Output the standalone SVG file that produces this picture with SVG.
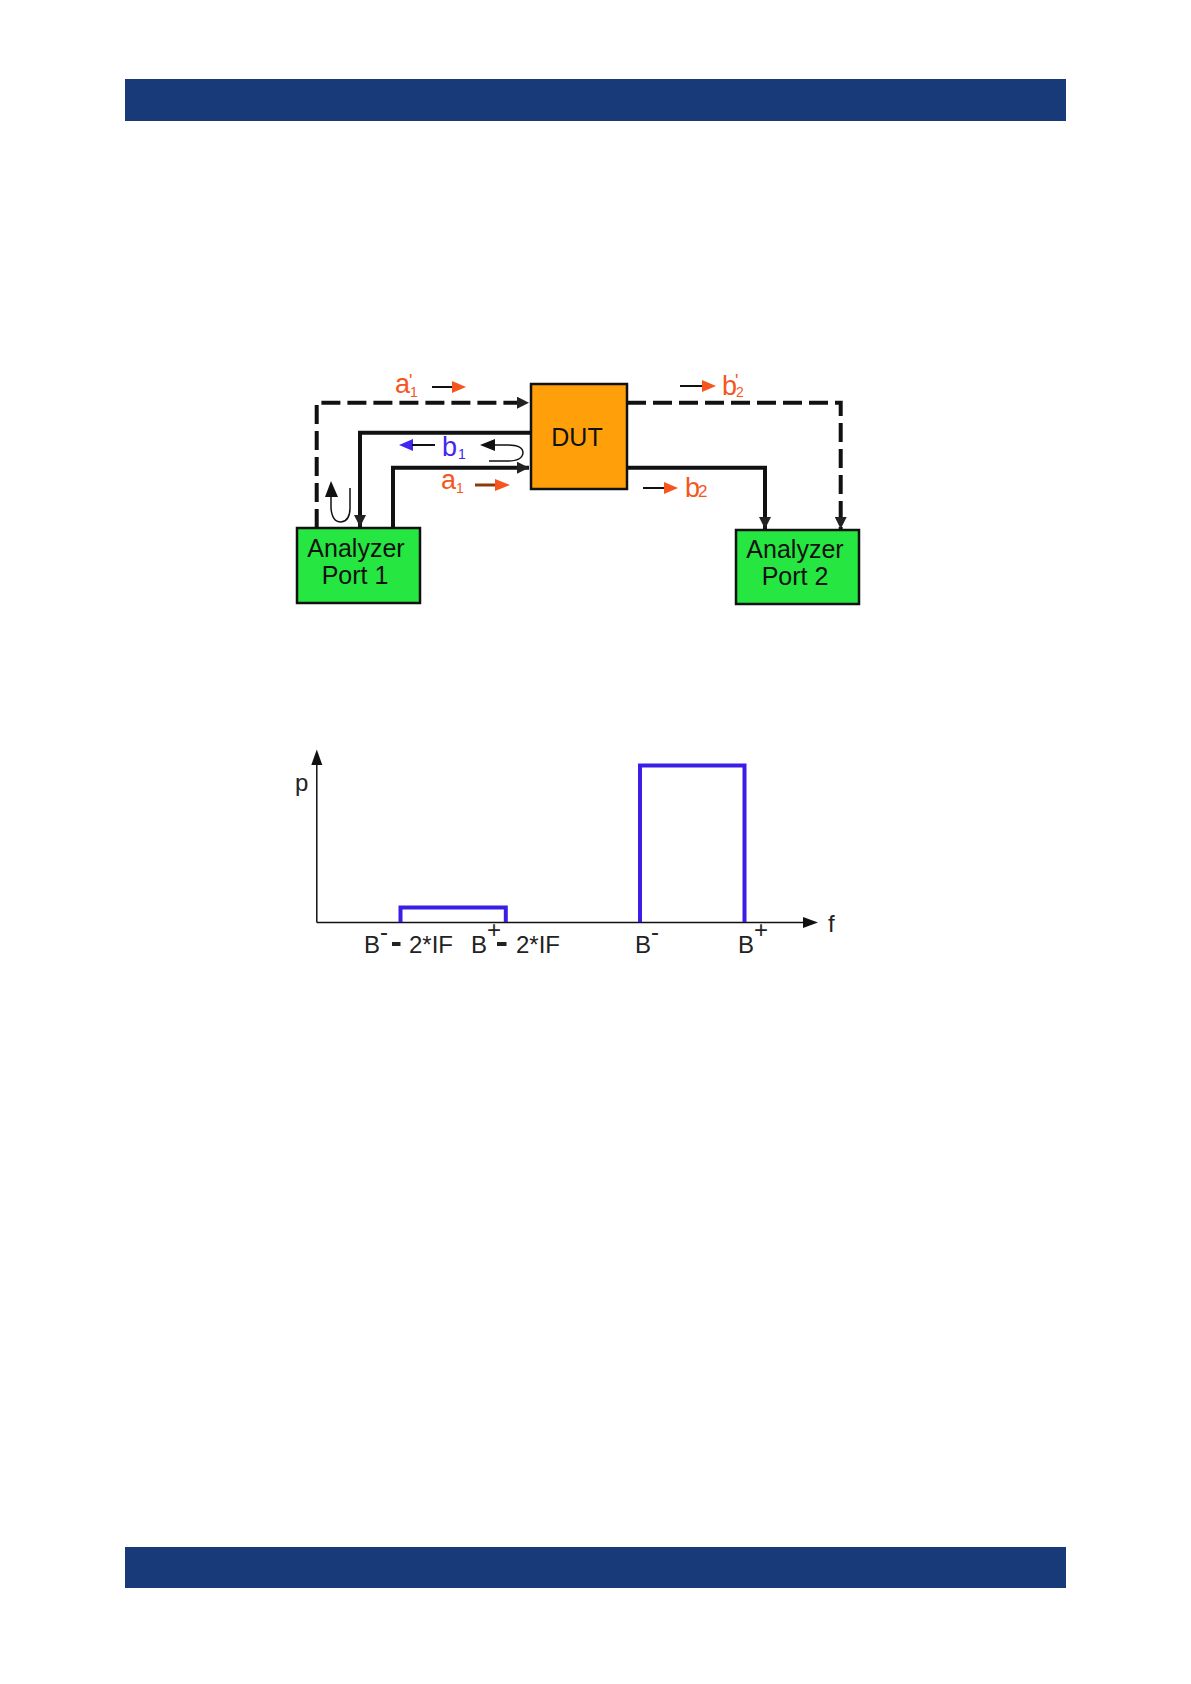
<svg xmlns="http://www.w3.org/2000/svg" width="1191" height="1684" viewBox="0 0 1191 1684">
<style>
.bar{fill:#183a78}
.conn{fill:none;stroke:#111;stroke-width:4}
.dash{stroke-dasharray:19 7}
.thin{fill:none;stroke:#111;stroke-width:1.5}
.box{stroke:#111;stroke-width:2.5}
.node{font-family:"Liberation Sans",Arial,sans-serif;font-size:25px;fill:#111;text-anchor:middle}
.lbl{font-family:"Liberation Sans",Arial,sans-serif;fill:#f5561e}
.lblb{font-family:"Liberation Sans",Arial,sans-serif;fill:#4326f0}
.ax{font-family:"Liberation Sans",Arial,sans-serif;font-size:24px;fill:#222}
.spec{fill:none;stroke:#3a1ee6;stroke-width:4}
</style>
<defs>
<marker id="ah" markerUnits="userSpaceOnUse" markerWidth="14" markerHeight="12" refX="12" refY="6" orient="auto">
<path d="M0,0 L12,6 L0,12 Z" fill="#222"/>
</marker>
</defs>
<rect class="bar" x="125" y="79" width="941" height="42"/>
<rect class="bar" x="125" y="1547" width="941" height="41"/>

<g id="connectors">
<path class="conn dash" d="M316.7,528 V402.7 H529" marker-end="url(#ah)"/>
<path class="conn dash" d="M627,402.7 H840.7 V529" marker-end="url(#ah)"/>
<path class="conn" d="M531,432.7 H360 V527" marker-end="url(#ah)"/>
<path class="conn" d="M393,528 V467.7 H529" marker-end="url(#ah)"/>
<path class="conn" d="M627,467.7 H765 V529" marker-end="url(#ah)"/>
</g>

<g id="reflection-dut">
<path d="M480,445 L495,439 L495,451 Z" fill="#111"/>
<path class="thin" d="M494,445 L508,445 Q523,445 523,453 Q522,461 508,461 L489,461"/>
</g>
<g id="reflection-port1">
<path d="M331,481 L325,497 L338,497 Z" fill="#111"/>
<path class="thin" d="M331,496 L331,508 Q332,522 341,522 Q350,521 350,508 L350,488"/>
</g>

<g id="wave-a1p">
<line x1="432" y1="387" x2="454" y2="387" stroke="#111" stroke-width="2"/>
<path d="M466,387 L452,381 L452,393 Z" fill="#f5561e"/>
<text class="lbl" x="395" y="393" font-size="27">a</text>
<text class="lbl" x="409" y="387" font-size="18">'</text>
<text class="lbl" x="410" y="397" font-size="14">1</text>
</g>
<g id="wave-b1">
<path d="M399,445 L413,439 L413,451 Z" fill="#4326f0"/>
<line x1="412" y1="445" x2="435" y2="445" stroke="#111" stroke-width="2"/>
<text class="lblb" x="442" y="456" font-size="27">b</text>
<text class="lblb" x="458" y="459" font-size="14">1</text>
</g>
<g id="wave-a1">
<line x1="475" y1="485" x2="497" y2="485" stroke="#8b3a10" stroke-width="3"/>
<path d="M510,485 L495,479 L495,491 Z" fill="#f5561e"/>
<text class="lbl" x="441" y="489" font-size="27">a</text>
<text class="lbl" x="456" y="493" font-size="14">1</text>
</g>
<g id="wave-b2p">
<line x1="680" y1="386" x2="704" y2="386" stroke="#111" stroke-width="2"/>
<path d="M716,386 L702,380 L702,392 Z" fill="#f5561e"/>
<text class="lbl" x="722" y="395" font-size="27">b</text>
<text class="lbl" x="735" y="387" font-size="18">'</text>
<text class="lbl" x="736" y="397" font-size="14">2</text>
</g>
<g id="wave-b2">
<line x1="643" y1="488" x2="666" y2="488" stroke="#111" stroke-width="2"/>
<path d="M678,488 L664,482 L664,494 Z" fill="#f5561e"/>
<text class="lbl" x="685" y="497" font-size="27">b</text>
<text class="lbl" x="698" y="497" font-size="17">2</text>
</g>

<g id="dut">
<rect class="box" x="531" y="384" width="96" height="105" fill="#ffa00a"/>
<text class="node" x="577" y="446" font-size="25.5">DUT</text>
</g>
<g id="port1">
<rect class="box" x="297" y="528" width="123" height="75" fill="#26e641"/>
<text class="node" x="356" y="557">Analyzer</text>
<text class="node" x="355" y="584">Port 1</text>
</g>
<g id="port2">
<rect class="box" x="736" y="530" width="123" height="74" fill="#26e641"/>
<text class="node" x="795" y="558">Analyzer</text>
<text class="node" x="795" y="585">Port 2</text>
</g>

<g id="spectrum">
<line x1="316.8" y1="922.4" x2="316.8" y2="762" stroke="#111" stroke-width="1.5"/>
<path d="M316.8,749.5 L311.3,765 L322.3,765 Z" fill="#111"/>
<line x1="316.8" y1="922.4" x2="806" y2="922.4" stroke="#111" stroke-width="1.5"/>
<path d="M818,922.4 L803,916.9 L803,927.9 Z" fill="#111"/>
<path class="spec" d="M400.5,922 V907.5 H505.8 V922"/>
<path class="spec" d="M640,922 V765.6 H744.5 V922"/>
<text class="ax" x="295" y="791">p</text>
<text class="ax" x="828" y="932">f</text>
<text class="ax" x="364" y="953">B</text>
<text class="ax" x="380" y="940" font-size="14">-</text>
<rect x="392" y="942" width="8.5" height="4" fill="#222"/>
<text class="ax" x="409" y="953">2*IF</text>
<text class="ax" x="471" y="953">B</text>
<text class="ax" x="487" y="938" font-size="16">+</text>
<rect x="497" y="942" width="9.5" height="4" fill="#222"/>
<text class="ax" x="516" y="953">2*IF</text>
<text class="ax" x="635" y="953">B</text>
<text class="ax" x="651" y="940" font-size="14">-</text>
<text class="ax" x="738" y="953">B</text>
<text class="ax" x="754" y="938" font-size="16">+</text>
</g>
</svg>
